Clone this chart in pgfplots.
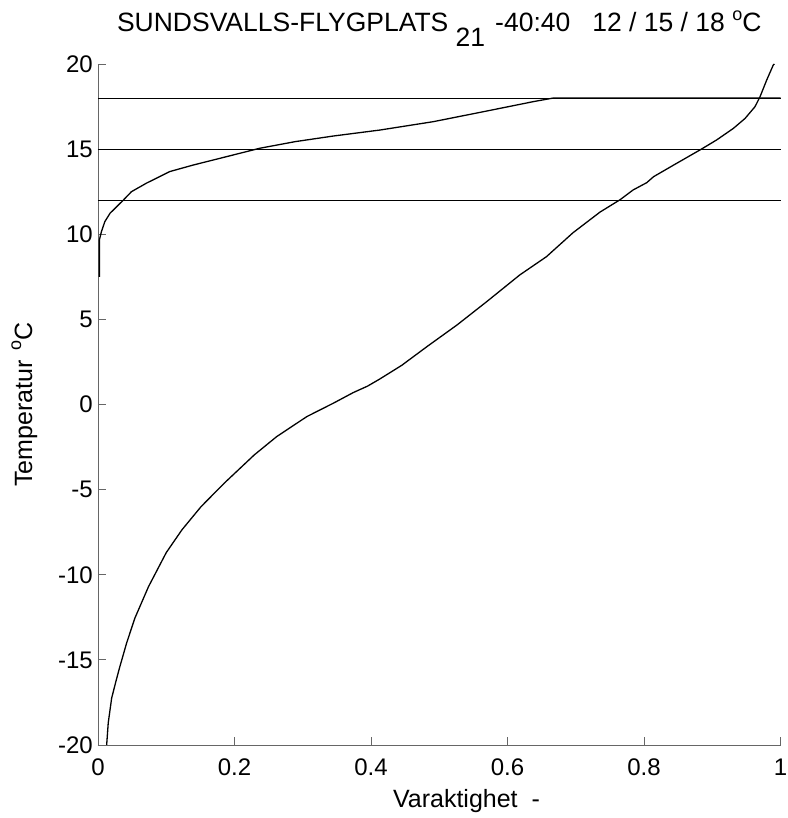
\documentclass[border=0pt]{standalone}
\usepackage{fontspec}
\setmainfont{Liberation Sans}
\usepackage{pgfplots}
\pgfplotsset{compat=1.18}
\begin{document}
\begin{tikzpicture}
\begin{axis}[
 at={(0,0)}, anchor=south west,
 scale only axis, width=682.5pt, height=681pt,
 xmin=0, xmax=1, ymin=-20, ymax=20,
 axis lines=left, axis line style={-, draw=black!60, line width=0.9pt},
 tick align=inside, major tick length=8pt, tick style={black!60, line width=0.9pt},
 xtick={0,0.2,0.4,0.6,0.8,1}, xticklabels={0,0.2,0.4,0.6,0.8,1},
 ytick={-20,-15,-10,-5,0,5,10,15,20}, yticklabels={-20,-15,-10,-5,0,5,10,15,20},
 ticklabel style={font=\fontsize{24}{24}\selectfont},
 xticklabel style={anchor=base, yshift=-30pt, inner sep=0pt},
 yticklabel style={anchor=east, inner sep=0pt, xshift=-5pt},
 title={SUNDSVALLS-FLYGPLATS \raisebox{-15pt}{21}\hspace{10pt}-40:40\hspace{22pt}12 / 15 / 18 \raisebox{11pt}{\fontsize{18}{18}\selectfont o}C},
 title style={font=\fontsize{26.5}{26.5}\selectfont, at={(axis description cs:0.5,1)}, anchor=base, yshift=26pt, inner sep=0pt},
 xlabel={Varaktighet\hspace{14pt}-},
 xlabel style={font=\fontsize{25}{25}\selectfont, at={(axis description cs:0.54,-0.0925)}, anchor=base, inner sep=0pt},
 ylabel={Temperatur\hspace{10pt}\raisebox{11pt}{\fontsize{18}{18}\selectfont o}C},
 ylabel style={font=\fontsize{25}{25}\selectfont, at={(axis description cs:-0.0967,0.5)}, anchor=base, inner sep=0pt},
 clip=false
]
\addplot[black, line width=0.9pt] coordinates {(0,12) (1,12)};
\addplot[black, line width=0.9pt] coordinates {(0,15) (1,15)};
\addplot[black, line width=0.9pt] coordinates {(0,18) (1,18)};
\addplot[black, line width=1.3pt] coordinates {
(0.0127,-20) (0.015,-18.7) (0.020,-17.25) (0.026,-16.3) (0.032,-15.4) (0.042,-14.0)
(0.054,-12.55) (0.074,-10.7) (0.10,-8.7) (0.123,-7.36) (0.151,-6.0) (0.185,-4.62)
(0.229,-2.96) (0.262,-1.88) (0.306,-0.71) (0.345,0.08) (0.374,0.70) (0.395,1.08)
(0.413,1.50) (0.445,2.3) (0.482,3.40) (0.526,4.67) (0.5695,6.04) (0.618,7.61) (0.657,8.68)
(0.696,10.09) (0.7355,11.3) (0.765,12.03) (0.784,12.6) (0.804,13.03) (0.814,13.38)
(0.848,14.17) (0.882,14.95) (0.9065,15.54) (0.931,16.22) (0.948,16.8) (0.9626,17.49) (0.970,18.08)
(0.9798,19.06) (0.9894,19.94) (0.991,20)};
\addplot[black, line width=1.3pt] coordinates {
(0.002,7.5) (0.002,9.67) (0.005,10.15) (0.010,10.74) (0.0176,11.23) (0.037,12.0)
(0.049,12.5) (0.071,13.0) (0.105,13.68) (0.14,14.07) (0.1886,14.56) (0.237,15.05)
(0.289,15.44) (0.345,15.77) (0.413,16.12) (0.491,16.61) (0.565,17.2) (0.638,17.79)
(0.667,18.0) (1,18)};
\end{axis}
\path[use as bounding box] (-98pt,-73pt) rectangle (688pt,745pt);
\end{tikzpicture}
\end{document}
